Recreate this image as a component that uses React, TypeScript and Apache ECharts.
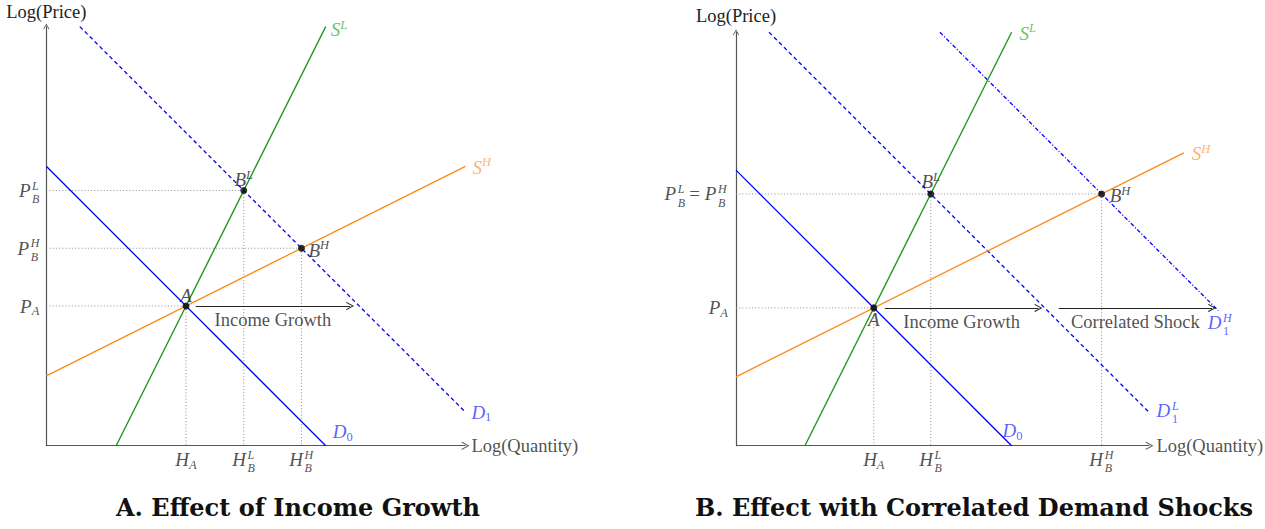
import { useEffect, useRef } from "react";
import * as echarts from "echarts";

// Both panels share a 0..15 log-quantity / log-price frame; the quantity
// scale runs a little further so curves and labels past the axis tip stay visible
const Q_AXIS = 15;
const Q_EXT = 18;
const P_MAX = 15;

// Panel A: income growth
const demandD0A = [[0, 10], [10, 0]];
const demandD1A = [[1.2, 15], [15, 1.2]];
const supplyLowA = [[2.5, 0], [10, 15]];
const supplyHighA = [[0, 2.5], [15, 10]];
const eqA_A = [5, 5];
const eqBLow_A = [7.067, 9.133];
const eqBHigh_A = [9.133, 7.067];
const incomeArrowA = [[5.35, 5], [10.87, 5]];

// Panel B: correlated demand shocks
const demandD0B = [[0, 10], [10, 0]];
const demandD1LowB = [[1.2, 15], [15, 1.2]];
const demandD1HighB = [[7.4, 15], [17.5, 4.9]];
const supplyLowB = [[2.5, 0], [10, 15]];
const supplyHighB = [[0, 2.5], [16.25, 10.625]];
const eqA_B = [5, 5];
const eqBLow_B = [7.067, 9.133];
const eqBHigh_B = [13.267, 9.133];
const incomeArrowB = [[5.4, 5], [10.97, 5]];
const shockArrowB = [[11.71, 5], [17.27, 5]];

const SERIF = '"Liberation Serif", "DejaVu Serif", serif';
const TITLE_FONT = '"DejaVu Serif", "Liberation Serif", serif';
const INK = "#222222";
const AXIS = "#555555";
const GUIDE = "#8c8c8c";
const BLUE = "#0000ff";
const BLUE_TXT = "#3535ff";
const GREEN = "#149614";
const GREEN_TXT = "#3cb43c";
const ORANGE = "#ff8a1a";
const ORANGE_TXT = "#ff9d45";
const CHEVRON = "path://M0,9 L5,0 L10,9 L9,9.8 L5,2.4 L1,9.8 Z";

const richFor = (color: string) => {
  const base = { fontFamily: SERIF, color };
  return {
    m: { ...base, fontStyle: "italic", fontSize: 19, lineHeight: 26, verticalAlign: "middle" },
    r: { ...base, fontSize: 19, lineHeight: 26, verticalAlign: "middle" },
    t: { ...base, fontSize: 18.5, lineHeight: 22, verticalAlign: "middle" },
    sup: { ...base, fontStyle: "italic", fontSize: 12.5, height: 16, verticalAlign: "top" },
    sub: { ...base, fontStyle: "italic", fontSize: 12.5, height: 16, verticalAlign: "bottom" },
    subr: { ...base, fontSize: 12.5, height: 16, verticalAlign: "bottom" },
    ss: { ...base, fontStyle: "italic", fontSize: 12, lineHeight: 13.5 },
    ssr: { ...base, fontSize: 12, lineHeight: 13.5 },
  };
};

type Tag = {
  at: number[];
  text: string;
  position: any;
  distance?: number;
  offset?: number[];
  align?: string;
  color?: string;
};

const tagItem = (t: Tag) => ({
  value: t.at,
  label: {
    show: true,
    formatter: () => t.text,
    position: t.position,
    distance: t.distance ?? 5,
    offset: t.offset ?? [0, 0],
    ...(t.align ? { align: t.align, verticalAlign: "middle" } : {}),
    rich: richFor(t.color ?? INK),
  },
});

// Letter with a superscript stacked over a subscript: the letter ends just
// before the anchor and the two scripts start just after it
const stacked = (
  at: number[],
  main: string,
  sup: string,
  sub: string,
  dx: number,
  dy: number,
  color = INK,
  uprightSub = false
): Tag[] => [
  { at, text: `{m|${main}}`, position: [dx - 0.8, dy], align: "right", color },
  { at, text: `{ss|${sup}}\n{${uprightSub ? "ssr" : "ss"}|${sub}}`, position: [dx + 0.8, dy + 2], align: "left", color },
];

const curve = (g: number, data: number[][], color: string, type: any, width = 1.3, z = 3) => ({
  type: "line",
  xAxisIndex: g,
  yAxisIndex: g,
  data,
  symbol: "none",
  clip: false,
  silent: true,
  z,
  lineStyle: { color, width, type },
});

const guide = (g: number, data: number[][]) => curve(g, data, GUIDE, [1, 2.2], 1, 1);

const arrow = (g: number, coords: number[][], color = INK, width = 1.2, z = 4) => ({
  type: "lines",
  coordinateSystem: "cartesian2d",
  xAxisIndex: g,
  yAxisIndex: g,
  data: [{ coords }],
  symbol: ["none", CHEVRON],
  symbolSize: 8,
  clip: false,
  silent: true,
  z,
  lineStyle: { color, width, opacity: 1, curveness: 0 },
});

const dots = (g: number, pts: number[][]) => ({
  type: "scatter",
  xAxisIndex: g,
  yAxisIndex: g,
  data: pts,
  symbolSize: 7,
  clip: false,
  itemStyle: { color: "#000" },
  silent: true,
  z: 5,
});

const tags = (g: number, list: Tag[]) => ({
  type: "scatter",
  xAxisIndex: g,
  yAxisIndex: g,
  data: list.map(tagItem),
  symbolSize: 0,
  clip: false,
  itemStyle: { color: "transparent" },
  silent: true,
  z: 10,
});

const mid = (seg: number[][]) => [(seg[0][0] + seg[1][0]) / 2, seg[0][1]];
const last = (seg: number[][]) => seg[seg.length - 1];

const axisPair = (g: number, pGap: number) => ({
  x: {
    type: "value",
    gridIndex: g,
    min: 0,
    max: Q_EXT,
    axisLine: { show: false },
    axisTick: { show: false },
    axisLabel: { show: false },
    splitLine: { show: false },
  },
  y: {
    type: "value",
    gridIndex: g,
    min: 0,
    max: P_MAX,
    axisLine: {
      show: true,
      onZero: false,
      lineStyle: { color: AXIS, width: 1.2 },
      symbol: ["none", CHEVRON],
      symbolSize: [7, 6],
    },
    axisTick: { show: false },
    axisLabel: { show: false },
    splitLine: { show: false },
    name: "Log(Price)",
    nameLocation: "end",
    nameGap: pGap,
    nameTextStyle: { fontFamily: SERIF, fontSize: 18.5, color: INK, align: "center", verticalAlign: "middle" },
  },
});

export default function App() {
  const ref = useRef<HTMLDivElement>(null);

  useEffect(() => {
    const chart = echarts.init(ref.current!, null, { renderer: "svg" });
    const axA = axisPair(0, 15);
    const axB = axisPair(1, 16.6);
    const qAxis = [[0, 0], [Q_AXIS, 0]];

    const tagsA: Tag[] = [
      { at: [Q_AXIS, 0], text: "{t|Log(Quantity)}", position: "right", distance: 6 },
      { at: last(supplyLowA), text: "{m|S}{sup|L}", position: "right", distance: 5, offset: [0, 3], color: GREEN_TXT },
      { at: last(supplyHighA), text: "{m|S}{sup|H}", position: "right", distance: 7, offset: [0, 1], color: ORANGE_TXT },
      { at: last(demandD1A), text: "{m|D}{subr|1}", position: "right", distance: 6, color: BLUE_TXT },
      { at: last(demandD0A), text: "{m|D}{subr|0}", position: "right", distance: 7, offset: [0, -14], color: BLUE_TXT },
      { at: eqA_A, text: "{m|A}", position: "top", distance: -2 },
      { at: eqBLow_A, text: "{m|B}{sup|L}", position: "top", distance: -2 },
      { at: eqBHigh_A, text: "{m|B}{sup|H}", position: "right", distance: 7, offset: [0, 2] },
      { at: [eqA_A[0], 0], text: "{m|H}{sub|A}", position: "bottom", distance: 1 },
      ...stacked([eqBLow_A[0], 0], "H", "L", "B", 3, 14),
      ...stacked([eqBHigh_A[0], 0], "H", "H", "B", 2.2, 14),
      ...stacked([0, eqBLow_A[1]], "P", "L", "B", -15, 0),
      ...stacked([0, eqBHigh_A[1]], "P", "H", "B", -16.4, 0),
      { at: [0, eqA_A[1]], text: "{m|P}{sub|A}", position: "left", distance: 7 },
      { at: mid(incomeArrowA), text: "{t|Income Growth}", position: "bottom", distance: 3 },
    ];

    const tagsB: Tag[] = [
      { at: [Q_AXIS, 0], text: "{t|Log(Quantity)}", position: "right", distance: 7 },
      { at: last(supplyLowB), text: "{m|S}{sup|L}", position: "right", distance: 8, offset: [0, 1], color: GREEN_TXT },
      { at: last(supplyHighB), text: "{m|S}{sup|H}", position: "right", distance: 8, offset: [0, 1], color: ORANGE_TXT },
      ...stacked(last(demandD1LowB), "D", "L", "1", 21.7, -2, BLUE_TXT, true),
      ...stacked(last(demandD1HighB), "D", "H", "1", 4, 12, BLUE_TXT, true),
      { at: last(demandD0B), text: "{m|D}{subr|0}", position: "right", distance: 0, offset: [-9, -15], color: BLUE_TXT },
      { at: eqA_B, text: "{m|A}", position: "bottom", distance: -1 },
      { at: eqBLow_B, text: "{m|B}{sup|L}", position: "top", distance: -1 },
      { at: eqBHigh_B, text: "{m|B}{sup|H}", position: "right", distance: 8, offset: [0, 2] },
      { at: [eqA_B[0], 0], text: "{m|H}{sub|A}", position: "bottom", distance: 1 },
      ...stacked([eqBLow_B[0], 0], "H", "L", "B", 3, 14),
      ...stacked([eqBHigh_B[0], 0], "H", "H", "B", 2.2, 14),
      ...stacked([0, eqBLow_B[1]], "P", "L", "B", -59, 0),
      { at: [0, eqBLow_B[1]], text: "{r| = }{m|P}", position: [-19.6, 0], align: "right" },
      { at: [0, eqBLow_B[1]], text: "{ss|H}\n{ss|B}", position: [-18, 2], align: "left" },
      { at: [0, eqA_B[1]], text: "{m|P}{sub|A}", position: "left", distance: 8 },
      { at: mid(incomeArrowB), text: "{t|Income Growth}", position: "bottom", distance: 3 },
      { at: mid(shockArrowB), text: "{t|Correlated Shock}", position: "bottom", distance: 3 },
    ];

    const option: any = {
      animation: false,
      backgroundColor: "#ffffff",
      grid: [
        { left: 46.3, top: 26.6, width: 27.94 * Q_EXT, height: 419.1 },
        { left: 736, top: 32.3, width: 27.56 * Q_EXT, height: 413.4 },
      ],
      xAxis: [axA.x, axB.x],
      yAxis: [axA.y, axB.y],
      series: [
        guide(0, [[0, eqA_A[1]], eqA_A]),
        guide(0, [[0, eqBLow_A[1]], eqBLow_A]),
        guide(0, [[0, eqBHigh_A[1]], eqBHigh_A]),
        ...[eqA_A, eqBLow_A, eqBHigh_A].map((p) => guide(0, [p, [p[0], 0]])),
        guide(1, [[0, eqA_B[1]], eqA_B]),
        guide(1, [[0, eqBHigh_B[1]], eqBHigh_B]),
        ...[eqA_B, eqBLow_B, eqBHigh_B].map((p) => guide(1, [p, [p[0], 0]])),

        arrow(0, qAxis, AXIS, 1.2, 2),
        arrow(1, qAxis, AXIS, 1.2, 2),

        curve(0, demandD0A, BLUE, "solid"),
        curve(0, demandD1A, BLUE, [4, 3]),
        curve(0, supplyLowA, GREEN, "solid"),
        curve(0, supplyHighA, ORANGE, "solid"),
        curve(1, demandD0B, BLUE, "solid"),
        curve(1, demandD1LowB, BLUE, [4, 3]),
        curve(1, demandD1HighB, BLUE, [4, 2, 1, 2]),
        curve(1, supplyLowB, GREEN, "solid"),
        curve(1, supplyHighB, ORANGE, "solid"),

        arrow(0, incomeArrowA),
        arrow(1, incomeArrowB),
        arrow(1, shockArrowB),

        dots(0, [eqA_A, eqBLow_A, eqBHigh_A]),
        dots(1, [eqA_B, eqBLow_B, eqBHigh_B]),

        tags(0, tagsA),
        tags(1, tagsB),
      ],
      graphic: [
        {
          type: "text",
          x: 298,
          y: 507,
          style: {
            text: "A. Effect of Income Growth",
            fontFamily: TITLE_FONT,
            fontSize: 24,
            fontWeight: "bold",
            fill: "#111",
            align: "center",
            verticalAlign: "middle",
          },
        },
        {
          type: "text",
          x: 974,
          y: 507,
          style: {
            text: "B. Effect with Correlated Demand Shocks",
            fontFamily: TITLE_FONT,
            fontSize: 24,
            fontWeight: "bold",
            fill: "#111",
            align: "center",
            verticalAlign: "middle",
          },
        },
      ],
    };

    chart.setOption(option);
    return () => chart.dispose();
  }, []);

  return (
    <div
      ref={ref}
      style={{ position: "absolute", left: 0, top: 0, width: 1265, height: 529, background: "#fff" }}
    />
  );
}
